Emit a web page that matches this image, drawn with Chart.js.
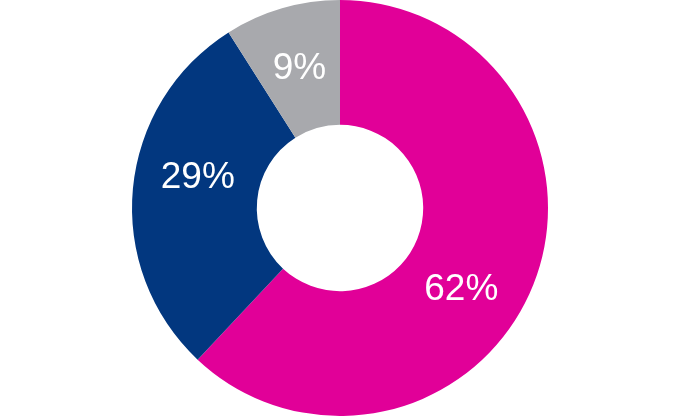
<!DOCTYPE html>
<html>
<head>
<meta charset="utf-8">
<script src="https://cdn.jsdelivr.net/npm/chart.js@4"></script>
<style>
    html, body { margin: 0; padding: 0; background: #ffffff; }
    #wrap { width: 680px; height: 416px; }
</style>
</head>
<body>
<div id="wrap"><canvas id="shareChart" width="680" height="416"></canvas></div>
<script>
// ==========================================
// DATA
// ==========================================
const categories = ['Magenta', 'Navy', 'Grey'];
const shares = [62, 29, 9];
const labelTexts = ['62%', '29%', '9%'];
const sliceColors = ['#E10098', '#02377F', '#A8A9AD'];

// ==========================================
// LABEL PLUGIN - white percentages inside each slice
// ==========================================
const sliceLabels = {
    id: 'sliceLabels',
    afterDatasetsDraw(chart, args, opts) {
        const ctx = chart.ctx;
        const meta = chart.getDatasetMeta(0);
        ctx.save();
        ctx.fillStyle = '#ffffff';
        ctx.font = '37px "Liberation Sans", Arial, sans-serif';
        ctx.textAlign = 'center';
        ctx.textBaseline = 'middle';
        meta.data.forEach((arc, i) => {
            const p = arc.getProps(['x', 'y', 'startAngle', 'endAngle', 'innerRadius', 'outerRadius'], true);
            // nudge a bit like the original artwork does
            const mid = (p.startAngle + p.endAngle) / 2 + (opts.nudge[i] || 0) * Math.PI / 180;
            const r = (p.innerRadius + p.outerRadius) / 2;
            ctx.fillText(labelTexts[i], p.x + Math.cos(mid) * r, p.y + Math.sin(mid) * r + 1);
        });
        ctx.restore();
    }
};

new Chart(document.getElementById('shareChart'), {
    type: 'doughnut',
    data: {
        labels: categories,
        datasets: [{
            data: shares,
            backgroundColor: sliceColors,
            borderWidth: 0
        }]
    },
    options: {
        responsive: false,
        animation: false,
        cutout: '40%',
        layout: { padding: 0 },
        plugins: {
            legend: { display: false },
            tooltip: { enabled: false },
            sliceLabels: { nudge: [12, 7, 0] }
        }
    },
    plugins: [sliceLabels]
});
</script>
</body>
</html>
